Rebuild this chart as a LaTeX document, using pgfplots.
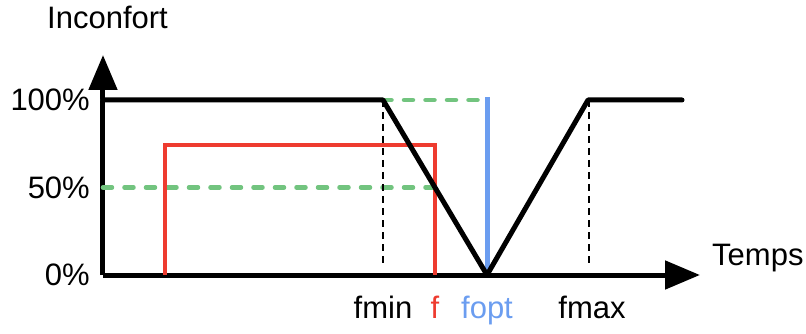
\documentclass[border=0pt]{standalone}
\usepackage{fontspec}
\setmainfont{Liberation Sans}
\usepackage{pgfplots}
\pgfplotsset{compat=1.18}
\usetikzlibrary{arrows.meta}
\definecolor{fred}{HTML}{EE3B2F}
\definecolor{fblue}{HTML}{6B9DF0}
\definecolor{fgreen}{HTML}{72C47F}

\begin{document}
\begin{tikzpicture}
\begin{axis}[
  scale only axis, width=597bp, height=220bp,
  xmin=0, xmax=597, ymin=0, ymax=125.714,
  enlargelimits=false, clip=false,
  axis x line=bottom, axis y line=left,
  axis line style={line width=5bp, -{Triangle[length=35bp,width=28bp]}},
  xtick={280,332,384,489},
  xticklabels={fmin,\textcolor{fred}{f},\textcolor{fblue}{fopt},fmax},
  ytick={0,50,100}, yticklabels={0\%,50\%,100\%},
  major tick length=0pt,
  tick label style={font=\fontsize{31bp}{37bp}\selectfont, inner sep=0pt},
  xticklabel style={anchor=north, yshift=-21bp},
  yticklabel style={anchor=east, xshift=-13bp},
]
\coordinate (O) at (axis cs:0,0);
% green guides at 100% and 50%
\addplot[fgreen, line width=4.5bp, line cap=round, dash pattern=on 9bp off 12.5bp] coordinates {(0,100)(384,100)};
\addplot[fgreen, line width=4.5bp, line cap=round, dash pattern=on 9bp off 12.5bp] coordinates {(0,50)(332,50)};
% red comfort window
\addplot[fred, line width=4.5bp] coordinates {(62,0)(62,74.3)(332,74.3)(332,0)};
% dashed markers at fmin and fmax
\addplot[black, line width=2bp, dash pattern=on 7bp off 5bp] coordinates {(280,100)(280,7)};
\addplot[black, line width=2bp, dash pattern=on 7bp off 5bp] coordinates {(486,100)(486,5)};
% optimum
\addplot[fblue, line width=5bp] coordinates {(384,0)(384,101.7)};
% discomfort curve
\addplot[black, line width=5bp, line join=round, line cap=round] coordinates {(0,100)(280,100)(384,0)(485,100)(579,100)};
\node[anchor=base west, inner sep=0pt, font=\fontsize{31bp}{37bp}\selectfont] at (axis cs:-56,141.1) {Inconfort};
\node[anchor=base west, inner sep=0pt, font=\fontsize{31bp}{37bp}\selectfont] at (axis cs:609,5.7) {Temps};
\end{axis}
\pgfresetboundingbox
\path ([shift={(-103bp,-59bp)}]O) rectangle ([shift={(703bp,275bp)}]O);
\end{tikzpicture}
\end{document}
